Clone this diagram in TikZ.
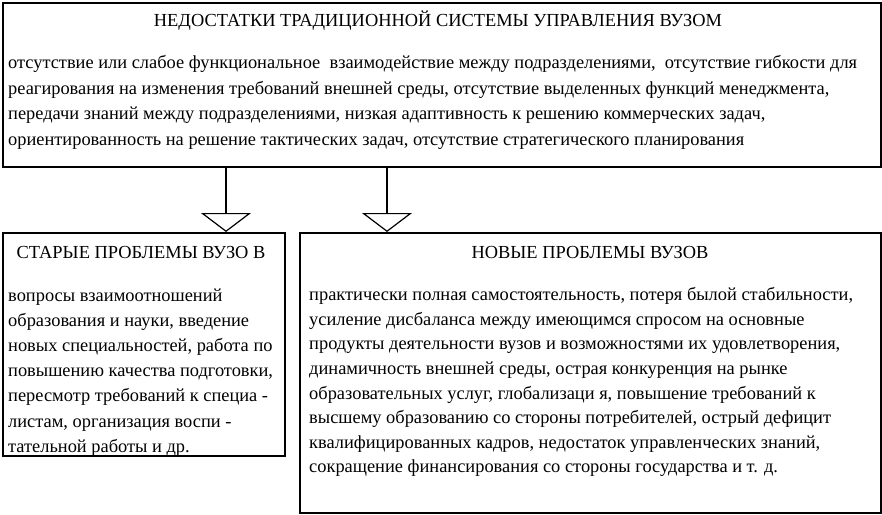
\documentclass[tikz,border=0pt]{standalone}
\usepackage{fontspec}
\setmainfont{Liberation Serif}
\usetikzlibrary{arrows.meta}
\begin{document}
\begin{tikzpicture}[x=1pt,y=-1pt,
  box/.style={draw,line width=1.5pt,minimum width=#1,anchor=north west,inner sep=0pt},
  ttl/.style={inner sep=0pt,anchor=base,font=\fontsize{18.4}{18.4}\selectfont},
  txt/.style={inner sep=0pt,align=left,anchor=north west,font=\fontsize{18.4}{#1}\selectfont},
  arr/.style={line width=1.5pt,-{Triangle[open,length=19pt,width=50pt,line width=1.2pt]}}]
\useasboundingbox (0,0) rectangle (882,514);
\node[box=878pt,minimum height=164pt] (top) at (2,2) {};
\node[box=282pt,minimum height=223pt] (old) at (2,232) {};
\node[box=581pt,minimum height=280pt] (new) at (299,232) {};
\coordinate (a1) at (226,0);
\coordinate (a2) at (387,0);
\draw[arr] (top.south -| a1) -- (old.north -| a1);
\draw[arr] (top.south -| a2) -- (new.north -| a2);
\node[ttl] (t1) at (438,26) {НЕДОСТАТКИ ТРАДИЦИОННОЙ СИСТЕМЫ УПРАВЛЕНИЯ ВУЗОМ};
\node[txt=25.6pt] (b1) at (8,55.3) {отсутствие или слабое функциональное \ взаимодействие между подразделениями, \ отсутствие гибкости для\\
реагирования на изменения требований внешней среды, отсутствие выделенных функций менеджмента,\\
передачи знаний между подразделениями, низкая адаптивность к решению коммерческих задач,\\
ориентированность на решение тактических задач, отсутствие стратегического планирования};
\node[ttl] (t2) at (141,258) {СТАРЫЕ ПРОБЛЕМЫ ВУЗО В};
\node[txt=25.2pt] (b2) at (8,288.3) {вопросы взаимоотношений\\
образования и науки, введение\\
новых специальностей, работа по\\
повышению качества подготовки,\\
пересмотр требований к специа -\\
листам, организация воспи -\\
тательной работы и др.};
\node[ttl] (t3) at (590,258) {НОВЫЕ ПРОБЛЕМЫ ВУЗОВ};
\node[txt=24.6pt] (b3) at (309,287.3) {практически полная самостоятельность, потеря былой стабильности,\\
усиление дисбаланса между имеющимся спросом на основные\\
продукты деятельности вузов и возможностями их удовлетворения,\\
динамичность внешней среды, острая конкуренция на рынке\\
образовательных услуг, глобализаци я, повышение требований к\\
высшему образованию со стороны потребителей, острый дефицит\\
квалифицированных кадров, недостаток управленческих знаний,\\
сокращение финансирования со стороны государства и т. д.};
\end{tikzpicture}
\end{document}
